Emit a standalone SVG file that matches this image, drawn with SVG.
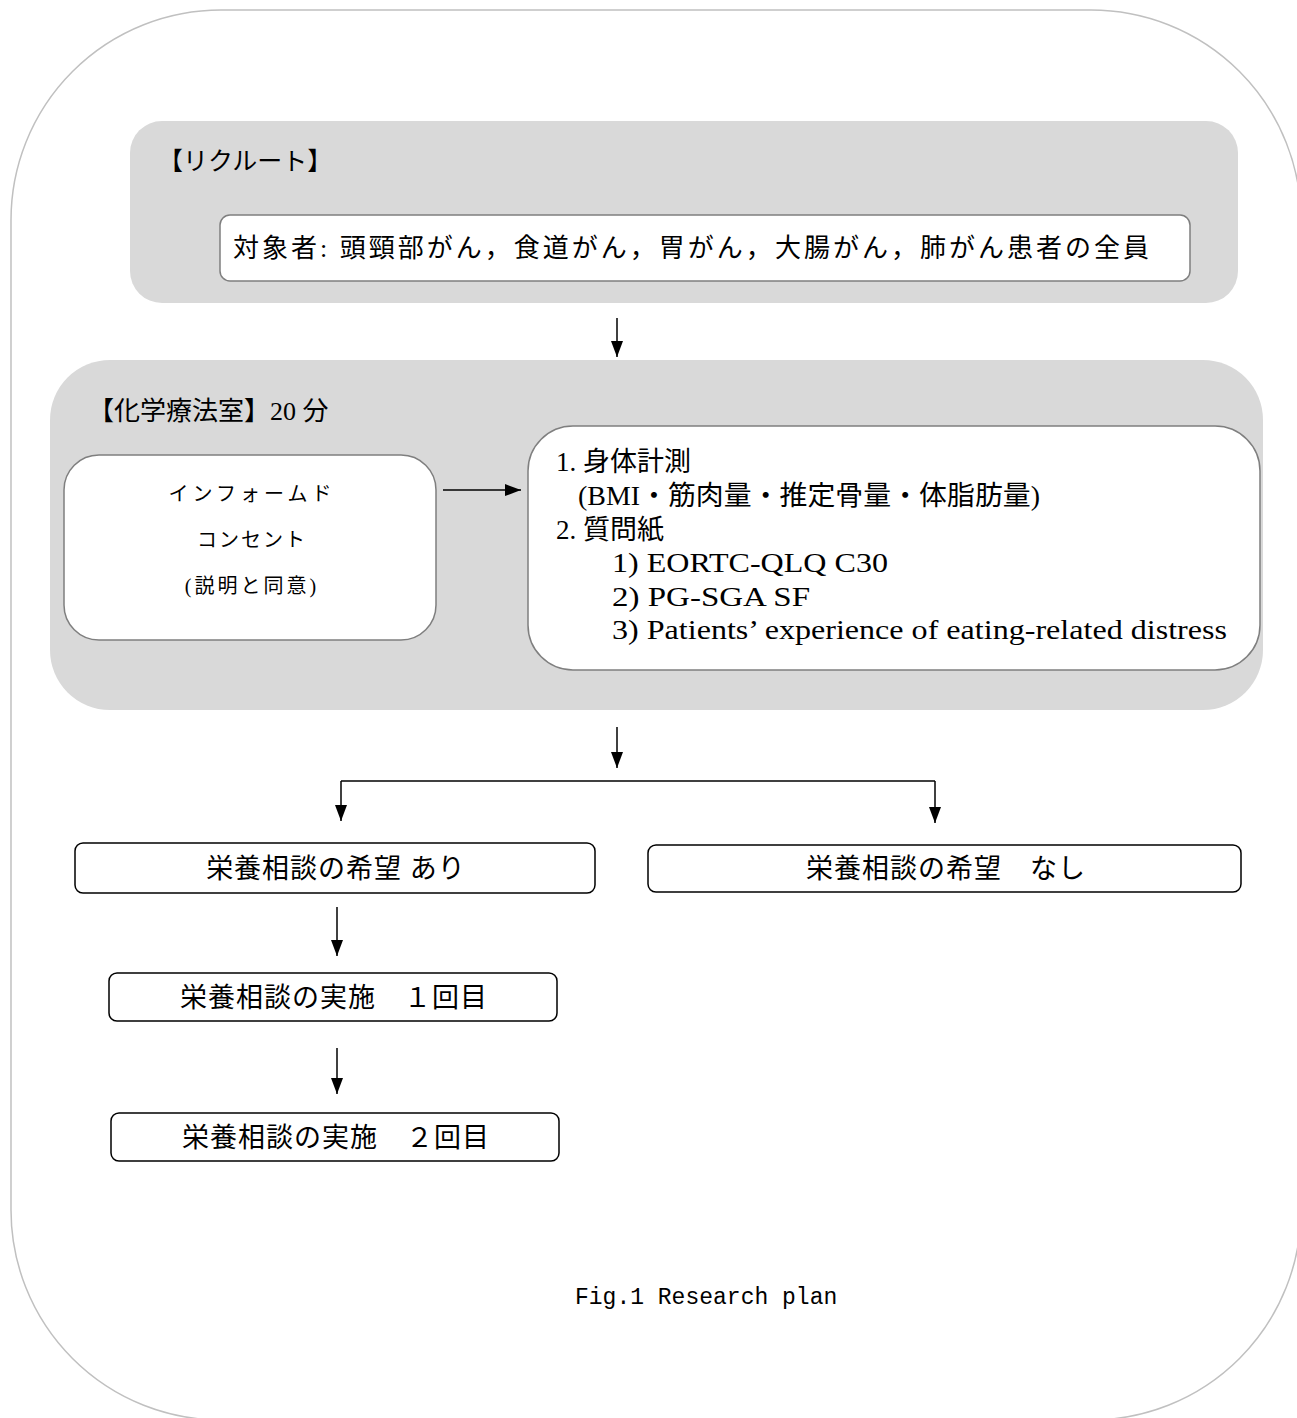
<svg xmlns="http://www.w3.org/2000/svg" width="1297" height="1418" viewBox="0 0 1297 1418">
<defs>
<style>
.jp{font-family:"Liberation Serif","Noto Sans CJK JP",serif;fill:#000;}
.gray{fill:#d9d9d9;stroke:none;}
.wbox{fill:#fff;stroke:#7f7f7f;stroke-width:1.5;}
.bbox{fill:#fff;stroke:#000;stroke-width:1.5;}
.conn{fill:none;stroke:#000;stroke-width:1.5;}
.lbl{font-size:27px;letter-spacing:1px;}
</style>
<marker id="ah" viewBox="0 0 16 12" refX="16" refY="6" markerWidth="16" markerHeight="12" markerUnits="userSpaceOnUse" orient="auto">
<path d="M0,0 L16,6 L0,12 Z" fill="#000"/>
</marker>
</defs>
<rect x="0" y="0" width="1297" height="1418" fill="#fff"/>
<rect id="frame" x="11" y="10" width="1290" height="1410" rx="210" ry="210" fill="none" stroke="#c0c0c0" stroke-width="1.5"/>

<g id="recruit">
<rect class="gray" x="130" y="121" width="1108" height="182" rx="32"/>
<text class="jp" x="158" y="170" font-size="25">【リクルート】</text>
</g>
<g id="target">
<rect class="wbox" x="220" y="215" width="970" height="66" rx="10"/>
<text class="jp" x="691" y="257" font-size="26" text-anchor="middle" textLength="916" lengthAdjust="spacing">対象者: 頭頸部がん，食道がん，胃がん，大腸がん，肺がん患者の全員</text>
</g>

<g id="chemo">
<rect class="gray" x="50" y="360" width="1213" height="350" rx="60"/>
<text class="jp" x="88" y="420" font-size="26">【化学療法室】20 分</text>
</g>
<g id="consent">
<rect class="wbox" x="64" y="455" width="372" height="185" rx="35"/>
<text class="jp" x="252" y="501" font-size="20" letter-spacing="4" text-anchor="middle">インフォームド</text>
<text class="jp" x="252" y="547" font-size="20" letter-spacing="2" text-anchor="middle">コンセント</text>
<text class="jp" x="252" y="593" font-size="20" letter-spacing="3" text-anchor="middle">(説明と同意)</text>
</g>
<g id="measures">
<rect class="wbox" x="528" y="426" width="732" height="244" rx="45"/>
<text class="jp" x="556" y="471" font-size="27">1. 身体計測</text>
<text class="jp" x="578" y="505" font-size="27" textLength="462" lengthAdjust="spacingAndGlyphs">(BMI・筋肉量・推定骨量・体脂肪量)</text>
<text class="jp" x="556" y="539" font-size="27">2. 質問紙</text>
<text class="jp" x="612" y="572" font-size="27" textLength="276" lengthAdjust="spacingAndGlyphs">1) EORTC-QLQ C30</text>
<text class="jp" x="612" y="606" font-size="27" textLength="198" lengthAdjust="spacingAndGlyphs">2) PG-SGA SF</text>
<text class="jp" x="612" y="639" font-size="27" textLength="615" lengthAdjust="spacingAndGlyphs">3) Patients’ experience of eating-related distress</text>
</g>

<g id="want-yes">
<rect class="bbox" x="75" y="843" width="520" height="50" rx="8"/>
<text class="jp lbl" x="336" y="878" text-anchor="middle">栄養相談の希望 あり</text>
</g>
<g id="want-no">
<rect class="bbox" x="648" y="845" width="593" height="47" rx="8"/>
<text class="jp lbl" x="946" y="878" text-anchor="middle">栄養相談の希望　なし</text>
</g>
<g id="session1">
<rect class="bbox" x="109" y="973" width="448" height="48" rx="8"/>
<text class="jp lbl" x="334" y="1007" text-anchor="middle">栄養相談の実施　１回目</text>
</g>
<g id="session2">
<rect class="bbox" x="111" y="1113" width="448" height="48" rx="8"/>
<text class="jp lbl" x="336" y="1147" text-anchor="middle">栄養相談の実施　２回目</text>
</g>

<g id="connectors">
<line class="conn" x1="617" y1="318" x2="617" y2="357" marker-end="url(#ah)"/>
<line class="conn" x1="443" y1="490" x2="521" y2="490" marker-end="url(#ah)"/>
<line class="conn" x1="617" y1="727" x2="617" y2="768" marker-end="url(#ah)"/>
<line class="conn" x1="341" y1="781" x2="935" y2="781"/>
<line class="conn" x1="341" y1="781" x2="341" y2="821" marker-end="url(#ah)"/>
<line class="conn" x1="935" y1="781" x2="935" y2="823" marker-end="url(#ah)"/>
<line class="conn" x1="337" y1="907" x2="337" y2="956" marker-end="url(#ah)"/>
<line class="conn" x1="337" y1="1048" x2="337" y2="1094" marker-end="url(#ah)"/>
</g>

<text x="575" y="1304" font-family="Liberation Mono, monospace" font-size="23" fill="#000">Fig.1 Research plan</text>
</svg>
